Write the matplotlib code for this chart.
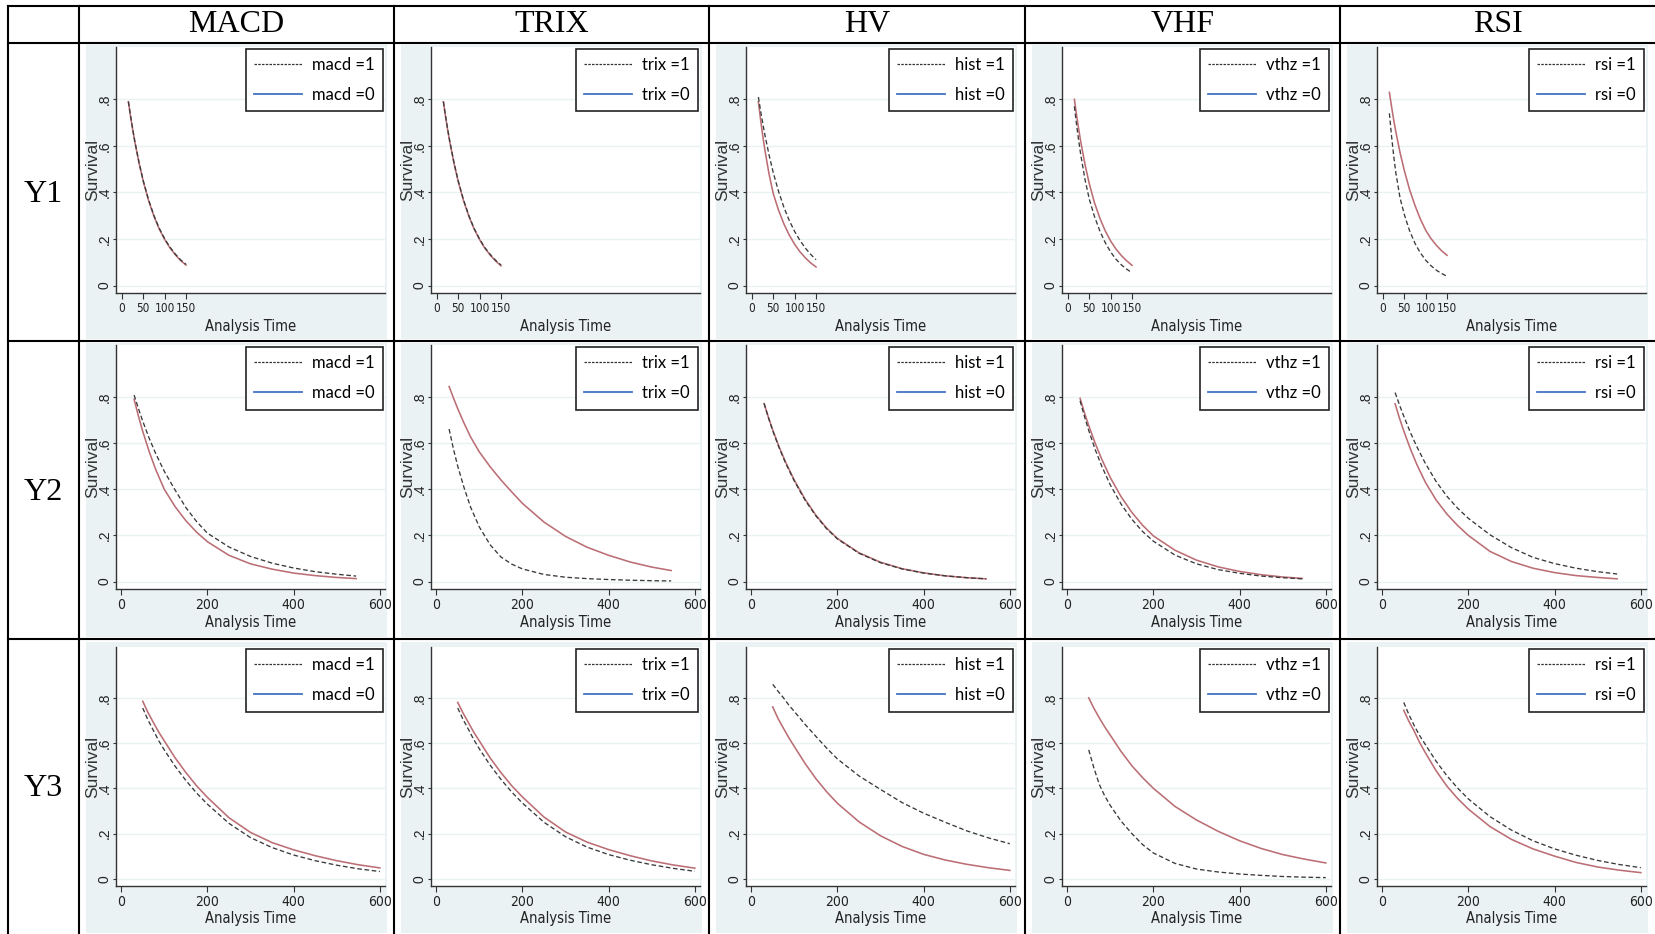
import matplotlib
matplotlib.use("Agg")
import matplotlib.pyplot as plt
from matplotlib import font_manager
from matplotlib.font_manager import FontProperties
from matplotlib.lines import Line2D
from matplotlib.patches import Rectangle

W, H = 1655, 934

indicators = ["MACD", "TRIX", "HV", "VHF", "RSI"]
legend_names = ["macd", "trix", "hist", "vthz", "rsi"]
rows = ["Y1", "Y2", "Y3"]

# analysis times where the curves were read
t_y1 = [15, 20, 25, 30, 40, 50, 62, 75, 87, 100, 112, 125, 137, 150]
t_y2 = [30, 40, 50, 65, 80, 100, 125, 150, 175, 200, 250, 300, 350, 400, 450, 500, 545]
t_y3 = [50, 62, 75, 87, 100, 125, 150, 175, 200, 250, 300, 350, 400, 450, 500, 550, 600]

# survival, group =1 (dashed) and group =0 (solid)
macd_y1_1 = [0.79, 0.73, 0.673, 0.62, 0.528, 0.449, 0.37, 0.30, 0.247, 0.201, 0.166, 0.135, 0.111, 0.091]
macd_y1_0 = [0.79, 0.728, 0.671, 0.619, 0.526, 0.447, 0.367, 0.297, 0.244, 0.198, 0.163, 0.132, 0.108, 0.088]
trix_y1_1 = [0.79, 0.729, 0.672, 0.62, 0.527, 0.448, 0.369, 0.299, 0.245, 0.199, 0.163, 0.133, 0.109, 0.088]
trix_y1_0 = [0.79, 0.727, 0.669, 0.617, 0.524, 0.445, 0.366, 0.296, 0.243, 0.197, 0.161, 0.13, 0.106, 0.085]
hist_y1_1 = [0.81, 0.753, 0.699, 0.65, 0.561, 0.484, 0.406, 0.335, 0.281, 0.232, 0.195, 0.161, 0.135, 0.111]
hist_y1_0 = [0.79, 0.715, 0.647, 0.585, 0.479, 0.394, 0.325, 0.264, 0.218, 0.177, 0.146, 0.119, 0.098, 0.08]
vthz_y1_1 = [0.77, 0.693, 0.624, 0.561, 0.454, 0.371, 0.297, 0.233, 0.185, 0.144, 0.114, 0.089, 0.071, 0.055]
vthz_y1_0 = [0.80, 0.734, 0.673, 0.617, 0.519, 0.437, 0.356, 0.288, 0.236, 0.191, 0.158, 0.129, 0.107, 0.087]
rsi_y1_1 = [0.74, 0.643, 0.559, 0.486, 0.376, 0.305, 0.237, 0.181, 0.142, 0.109, 0.086, 0.066, 0.052, 0.04]
rsi_y1_0 = [0.83, 0.77, 0.713, 0.662, 0.571, 0.494, 0.414, 0.344, 0.288, 0.238, 0.203, 0.173, 0.15, 0.13]

macd_y2_1 = [0.808, 0.75, 0.695, 0.621, 0.555, 0.478, 0.397, 0.321, 0.26, 0.21, 0.15, 0.109, 0.08, 0.059, 0.043, 0.032, 0.024]
macd_y2_0 = [0.79, 0.717, 0.651, 0.563, 0.486, 0.40, 0.325, 0.264, 0.214, 0.173, 0.114, 0.077, 0.054, 0.037, 0.026, 0.018, 0.013]
trix_y2_1 = [0.661, 0.575, 0.50, 0.405, 0.322, 0.237, 0.16, 0.107, 0.076, 0.055, 0.031, 0.019, 0.013, 0.009, 0.006, 0.004, 0.003]
trix_y2_0 = [0.845, 0.796, 0.749, 0.685, 0.626, 0.562, 0.498, 0.441, 0.389, 0.339, 0.258, 0.196, 0.149, 0.114, 0.085, 0.063, 0.048]
hist_y2_1 = [0.772, 0.71, 0.654, 0.579, 0.513, 0.436, 0.353, 0.285, 0.229, 0.185, 0.123, 0.082, 0.055, 0.037, 0.025, 0.017, 0.012]
hist_y2_0 = [0.771, 0.712, 0.657, 0.583, 0.517, 0.44, 0.357, 0.288, 0.232, 0.187, 0.125, 0.084, 0.056, 0.038, 0.025, 0.017, 0.012]
vthz_y2_1 = [0.783, 0.716, 0.655, 0.572, 0.501, 0.419, 0.336, 0.27, 0.217, 0.175, 0.115, 0.077, 0.052, 0.036, 0.024, 0.017, 0.012]
vthz_y2_0 = [0.794, 0.732, 0.676, 0.599, 0.531, 0.451, 0.368, 0.30, 0.244, 0.198, 0.136, 0.093, 0.064, 0.044, 0.03, 0.02, 0.014]
rsi_y2_1 = [0.819, 0.766, 0.717, 0.648, 0.586, 0.513, 0.434, 0.37, 0.318, 0.274, 0.203, 0.147, 0.105, 0.078, 0.058, 0.043, 0.033]
rsi_y2_0 = [0.77, 0.709, 0.653, 0.577, 0.509, 0.431, 0.354, 0.293, 0.243, 0.20, 0.131, 0.087, 0.058, 0.039, 0.026, 0.018, 0.012]

macd_y3_1 = [0.755, 0.703, 0.655, 0.611, 0.57, 0.498, 0.435, 0.379, 0.33, 0.245, 0.182, 0.138, 0.105, 0.08, 0.06, 0.044, 0.032]
macd_y3_0 = [0.785, 0.736, 0.69, 0.649, 0.61, 0.535, 0.47, 0.411, 0.36, 0.27, 0.205, 0.16, 0.128, 0.102, 0.08, 0.062, 0.048]
trix_y3_1 = [0.755, 0.706, 0.66, 0.616, 0.575, 0.503, 0.44, 0.384, 0.335, 0.25, 0.186, 0.14, 0.107, 0.082, 0.062, 0.046, 0.033]
trix_y3_0 = [0.78, 0.734, 0.69, 0.649, 0.61, 0.535, 0.47, 0.412, 0.362, 0.273, 0.207, 0.162, 0.129, 0.102, 0.079, 0.061, 0.047]
hist_y3_1 = [0.86, 0.83, 0.80, 0.769, 0.74, 0.683, 0.63, 0.578, 0.53, 0.455, 0.395, 0.337, 0.29, 0.25, 0.212, 0.181, 0.155]
hist_y3_0 = [0.76, 0.71, 0.665, 0.625, 0.585, 0.51, 0.443, 0.385, 0.334, 0.252, 0.19, 0.143, 0.108, 0.083, 0.064, 0.049, 0.037]
vthz_y3_1 = [0.57, 0.49, 0.415, 0.367, 0.324, 0.255, 0.20, 0.151, 0.114, 0.068, 0.043, 0.03, 0.021, 0.015, 0.01, 0.007, 0.005]
vthz_y3_0 = [0.80, 0.754, 0.71, 0.672, 0.635, 0.563, 0.50, 0.447, 0.40, 0.32, 0.26, 0.21, 0.168, 0.134, 0.107, 0.087, 0.07]
rsi_y3_1 = [0.78, 0.726, 0.675, 0.633, 0.594, 0.52, 0.456, 0.401, 0.353, 0.275, 0.215, 0.168, 0.132, 0.104, 0.081, 0.063, 0.049]
rsi_y3_0 = [0.745, 0.696, 0.65, 0.602, 0.558, 0.478, 0.41, 0.355, 0.308, 0.231, 0.174, 0.132, 0.10, 0.072, 0.052, 0.038, 0.027]

times = [t_y1, t_y2, t_y3]
xticks_rows = [[0, 50, 100, 150], [0, 200, 400, 600], [0, 200, 400, 600]]
xtick_sizes = [8.5, 10, 10]
xlims = [(-14, 616), (-12, 612), (-12, 612)]
curves = [
    [(macd_y1_1, macd_y1_0), (trix_y1_1, trix_y1_0), (hist_y1_1, hist_y1_0),
     (vthz_y1_1, vthz_y1_0), (rsi_y1_1, rsi_y1_0)],
    [(macd_y2_1, macd_y2_0), (trix_y2_1, trix_y2_0), (hist_y2_1, hist_y2_0),
     (vthz_y2_1, vthz_y2_0), (rsi_y2_1, rsi_y2_0)],
    [(macd_y3_1, macd_y3_0), (trix_y3_1, trix_y3_0), (hist_y3_1, hist_y3_0),
     (vthz_y3_1, vthz_y3_0), (rsi_y3_1, rsi_y3_0)],
]

# table geometry in pixels
col_lines = [8, 79, 394, 709, 1025, 1340]
row_lines = [6, 43, 341, 639]
bg_rows = [(44, 339), (343, 637), (642, 933)]
plot_rows = [(47, 293), (345, 589), (647, 886)]
PL, PR = 37, 306   # plot left / right offset inside a cell

BG = "#eaf2f3"
RED = "#bb6e74"

# a narrow face for the x axis text, if one is installed
narrow_file = None
for pref in ["Liberation Sans Narrow", "DejaVu Sans Condensed", "Roboto Condensed"]:
    for f in font_manager.fontManager.ttflist:
        if (f.name == pref or pref.replace(" ", "") in f.fname.replace("-", "")) \
                and "Bold" not in f.fname and "Italic" not in f.fname and "Oblique" not in f.fname:
            narrow_file = f.fname
            break
    if narrow_file:
        break


def xfont(size):
    if narrow_file:
        return FontProperties(fname=narrow_file, size=size)
    return FontProperties(family="Liberation Sans", size=size * 0.85)


def fx(x):
    return x / W


def fy(y):
    return 1 - y / H


fig = plt.figure(figsize=(W / 100, H / 100), dpi=100)
fig.patch.set_facecolor("white")

for x in col_lines:
    fig.add_artist(Line2D([fx(x), fx(x)], [fy(row_lines[0]), fy(H)],
                          transform=fig.transFigure, color="black", lw=1.5, zorder=0.5))
for y in row_lines:
    fig.add_artist(Line2D([fx(col_lines[0]), 1], [fy(y), fy(y)],
                          transform=fig.transFigure, color="black", lw=1.5, zorder=0.5))

for j, name in enumerate(indicators):
    cx = (col_lines[j + 1] + (col_lines[j + 2] if j + 2 < len(col_lines) else W)) / 2
    fig.text(fx(cx), fy(25), name, family="Liberation Serif", fontsize=23,
             ha="center", va="center")

for i, r in enumerate(rows):
    cy = (row_lines[i + 1] + (row_lines[i + 2] if i + 2 < len(row_lines) else H)) / 2
    fig.text(fx(43.5), fy(cy + 2), r, family="Liberation Serif", fontsize=23,
             ha="center", va="center")

for i in range(3):
    bt, bb = bg_rows[i]
    pt, pb = plot_rows[i]
    for j in range(5):
        c = col_lines[j + 1]
        fig.add_artist(Rectangle((fx(c + 7), fy(bb)), 301 / W, (bb - bt) / H,
                                 transform=fig.transFigure, facecolor=BG,
                                 edgecolor="none", zorder=1))
        ax = fig.add_axes([fx(c + PL), fy(pb), (PR - PL) / W, (pb - pt) / H])
        ax.set_zorder(2)
        ax.set_facecolor("white")

        d1, d0 = curves[i][j]
        t = times[i]
        ax.plot(t, d0, color=RED, lw=1.15, zorder=3)
        ax.plot(t, d1, color="#3a3a3a", lw=0.95, ls=(0, (3.5, 2)), zorder=4)

        ax.set_xlim(*xlims[i])
        ax.set_ylim(-0.032, 1.025)
        ax.set_xticks(xticks_rows[i])
        ax.set_xticklabels([str(v) for v in xticks_rows[i]],
                           fontproperties=xfont(xtick_sizes[i]))
        ax.set_yticks([0, 0.2, 0.4, 0.6, 0.8])
        ax.set_yticklabels(["0", ".2", ".4", ".6", ".8"], family="Liberation Sans",
                           fontsize=10, rotation=90, va="center")
        ax.tick_params(axis="both", width=0.8, color="#333333", labelcolor="#222222")
        ax.tick_params(axis="x", length=4, pad=2.5)
        ax.tick_params(axis="y", length=2.5, pad=0.8)
        ax.yaxis.grid(True, color=BG, lw=1.0)
        ax.set_axisbelow(True)
        for s in ["top", "right"]:
            ax.spines[s].set_visible(False)
        for s in ["left", "bottom"]:
            ax.spines[s].set_color("#333333")
            ax.spines[s].set_linewidth(1.0)

        ax.set_ylabel("Survival", family="Liberation Sans", fontsize=12.5, color="#333333")
        ax.yaxis.set_label_coords(-0.06, 0.5)
        ax.set_xlabel("Analysis Time", fontproperties=xfont(10.5), color="#222222")
        ax.xaxis.set_label_coords(0.5, -0.105)

        nm = legend_names[j]
        handles = [Line2D([], [], color="#333333", lw=0.9, ls=(0, (2, 1))),
                   Line2D([], [], color="#4472c4", lw=1.3)]
        leg = ax.legend(handles, [nm + " =1", nm + " =0"], loc="upper right",
                        bbox_to_anchor=(1.0, 1.0), prop={"family": "Lato", "size": 12},
                        frameon=True, fancybox=False, edgecolor="#222222", framealpha=1,
                        handlelength=2.9, handletextpad=0.6, labelspacing=0.85,
                        borderpad=0.5, borderaxespad=0.1)
        leg.get_frame().set_linewidth(1.2)

fig.savefig("out.png", dpi=100)
